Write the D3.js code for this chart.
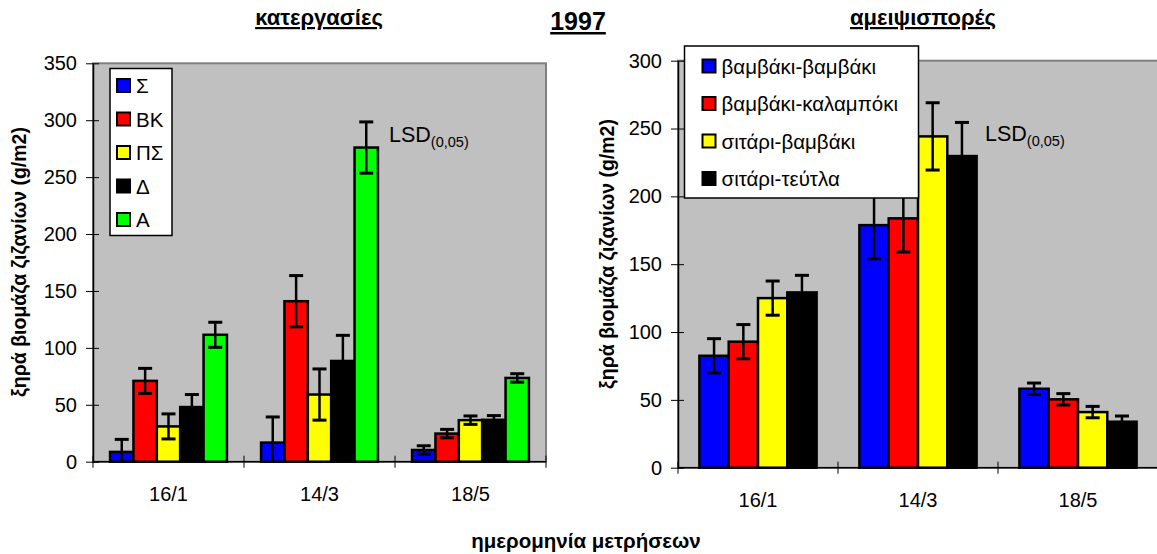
<!DOCTYPE html>
<html><head><meta charset="utf-8">
<script src="https://cdn.jsdelivr.net/npm/d3@7"></script>
<style>
body{margin:0;background:#fff;}
svg{display:block;font-family:"Liberation Sans",Arial,sans-serif;}
</style></head>
<body><svg id="c" width="1157" height="554"></svg>
<script>
// ---- data ----
const dates = ["16/1", "14/3", "18/5"];
const leftSeries = ["Σ", "ΒΚ", "ΠΣ", "Δ", "Α"];
const leftColors = ["#0000ff", "#ff0000", "#ffff00", "#000000", "#00ff00"];
const leftS  = [8.6, 16.8, 10.3];
const leftBK = [71, 141, 24.7];
const leftPS = [31, 59, 36.5];
const leftD  = [48, 88.5, 36.8];
const leftA  = [111.5, 276, 73.6];
const leftLSD = [11, 22.5, 3.7];
const leftTicks = [0, 50, 100, 150, 200, 250, 300, 350];

const rightSeries = ["βαμβάκι-βαμβάκι", "βαμβάκι-καλαμπόκι", "σιτάρι-βαμβάκι", "σιτάρι-τεύτλα"];
const rightColors = ["#0000ff", "#ff0000", "#ffff00", "#000000"];
const rightBB = [82.5, 178.8, 58.2];
const rightBK = [92.9, 183.8, 50.4];
const rightSB = [125, 244.2, 41];
const rightST = [129.2, 229.7, 33.9];
const rightLSD = [12.6, 24.8, 4.2];
const rightTicks = [0, 50, 100, 150, 200, 250, 300];

const svg = d3.select("#c");

function panel(cfg) {
  const g = svg.append("g");
  const x = d3.scaleBand().domain(dates).range([cfg.x0, cfg.x1]).paddingInner(0).paddingOuter(0);
  const xs = d3.scaleBand().domain(cfg.series).range([0, x.bandwidth()]).paddingInner(0).paddingOuter(0.73);
  const y = d3.scaleLinear().domain([0, cfg.max]).range([cfg.yb, cfg.yt]);
  // plot area
  g.append("rect").attr("x", cfg.x0).attr("y", cfg.yt).attr("width", cfg.x1 - cfg.x0).attr("height", cfg.yb - cfg.yt)
    .attr("fill", "#c0c0c0").attr("stroke", "#808080").attr("stroke-width", 2);
  // bars
  cfg.series.forEach((s, si) => {
    const vals = cfg.values[si];
    dates.forEach((d, di) => {
      const v = vals[di];
      g.append("rect")
        .attr("x", x(d) + xs(s)).attr("y", y(v))
        .attr("width", xs.bandwidth()).attr("height", y(0) - y(v))
        .attr("fill", cfg.colors[si]).attr("stroke", "#000").attr("stroke-width", 2.5);
    });
  });
  // error bars
  cfg.series.forEach((s, si) => {
    const vals = cfg.values[si];
    dates.forEach((d, di) => {
      const v = vals[di], e = cfg.lsd[di];
      const cx = x(d) + xs(s) + xs.bandwidth() / 2;
      const lo = Math.max(0, v - e), hi = v + e;
      g.append("line").attr("x1", cx).attr("x2", cx).attr("y1", y(lo)).attr("y2", y(hi)).attr("stroke", "#000").attr("stroke-width", 2.5);
      g.append("line").attr("x1", cx - 7).attr("x2", cx + 7).attr("y1", y(hi)).attr("y2", y(hi)).attr("stroke", "#000").attr("stroke-width", 3);
      if (v - e > 0)
        g.append("line").attr("x1", cx - 7).attr("x2", cx + 7).attr("y1", y(lo)).attr("y2", y(lo)).attr("stroke", "#000").attr("stroke-width", 3);
    });
  });
  // y axis
  const ya = g.append("g").attr("transform", `translate(${cfg.x0},0)`)
    .call(d3.axisLeft(y).tickValues(cfg.ticks).tickSize(7).tickPadding(9).tickSizeOuter(0));
  ya.select(".domain").attr("stroke", "#000").attr("stroke-width", 1.5);
  ya.selectAll(".tick line").attr("stroke", "#000").attr("x2", -7).attr("x1", 6);
  ya.selectAll(".tick text").attr("font-size", 20).attr("fill", "#000").attr("font-family", "Liberation Sans, Arial");
  // x axis baseline & ticks
  g.append("line").attr("x1", cfg.x0).attr("x2", cfg.x1).attr("y1", cfg.yb).attr("y2", cfg.yb).attr("stroke", "#000").attr("stroke-width", 1.5);
  const bounds = dates.map(d => x(d)).concat([cfg.x1]);
  bounds.forEach(b => {
    g.append("line").attr("x1", b).attr("x2", b).attr("y1", cfg.yb - 6).attr("y2", cfg.yb + 6).attr("stroke", "#000").attr("stroke-width", 1);
  });
  dates.forEach(d => {
    g.append("text").attr("x", x(d) + x.bandwidth() / 2).attr("y", cfg.yb + 39)
      .attr("text-anchor", "middle").attr("font-size", 20).text(d);
  });
  // y title
  g.append("text").attr("transform", `translate(${cfg.ytx},${cfg.yty}) rotate(-90)`)
    .attr("text-anchor", "middle").attr("font-size", 19.5).attr("font-weight", "bold").text("ξηρά βιομάζα ζιζανίων (g/m2)");
  // panel title
  g.append("text").attr("x", cfg.tx).attr("y", 25).attr("text-anchor", "middle")
    .attr("font-size", 22).attr("font-weight", "bold").attr("text-decoration", "underline").text(cfg.title);
  // LSD label
  const lsd = g.append("text").attr("x", cfg.lx).attr("y", cfg.ly).attr("font-size", 21.5);
  lsd.append("tspan").text("LSD");
  lsd.append("tspan").attr("font-size", 14.5).attr("dy", 5).text("(0,05)");
  // legend
  const lg = g.append("g");
  lg.append("rect").attr("x", cfg.lgx).attr("y", cfg.lgy).attr("width", cfg.lgw).attr("height", cfg.lgh)
    .attr("fill", "#fff").attr("stroke", "#000").attr("stroke-width", 1.5);
  cfg.series.forEach((s, si) => {
    const cy = cfg.lgy + cfg.lgFirst + si * cfg.lgStep;
    lg.append("rect").attr("x", cfg.lgx + cfg.swx).attr("y", cy - 6.5).attr("width", 13).attr("height", 13)
      .attr("fill", cfg.colors[si]).attr("stroke", "#000").attr("stroke-width", 2);
    lg.append("text").attr("x", cfg.lgx + cfg.swx + 19).attr("y", cy + 7.5).attr("font-size", 20.5).text(s);
  });
}

panel({
  x0: 93, x1: 546, yt: 63.3, yb: 461.7, max: 350, ticks: leftTicks,
  series: leftSeries, colors: leftColors,
  values: [leftS, leftBK, leftPS, leftD, leftA], lsd: leftLSD,
  ytx: 26, yty: 262, tx: 319, title: "κατεργασίες",
  lx: 389, ly: 142,
  lgx: 110, lgy: 68.5, lgw: 62, lgh: 167, lgFirst: 17, lgStep: 33.5, swx: 7
});
panel({
  x0: 678, x1: 1158, yt: 60.7, yb: 467.7, max: 300, ticks: rightTicks,
  series: rightSeries, colors: rightColors,
  values: [rightBB, rightBK, rightSB, rightST], lsd: rightLSD,
  ytx: 614, yty: 254, tx: 923, title: "αμειψισπορές",
  lx: 985, ly: 141,
  lgx: 684.5, lgy: 46, lgw: 234, lgh: 152, lgFirst: 20, lgStep: 37.5, swx: 18
});

// main title and x title
svg.append("text").attr("x", 578).attr("y", 30).attr("text-anchor", "middle")
  .attr("font-size", 25).attr("font-weight", "bold").attr("text-decoration", "underline").text("1997");
svg.append("text").attr("x", 586).attr("y", 548).attr("text-anchor", "middle")
  .attr("font-size", 20.5).attr("font-weight", "bold").text("ημερομηνία μετρήσεων");
</script></body></html>
